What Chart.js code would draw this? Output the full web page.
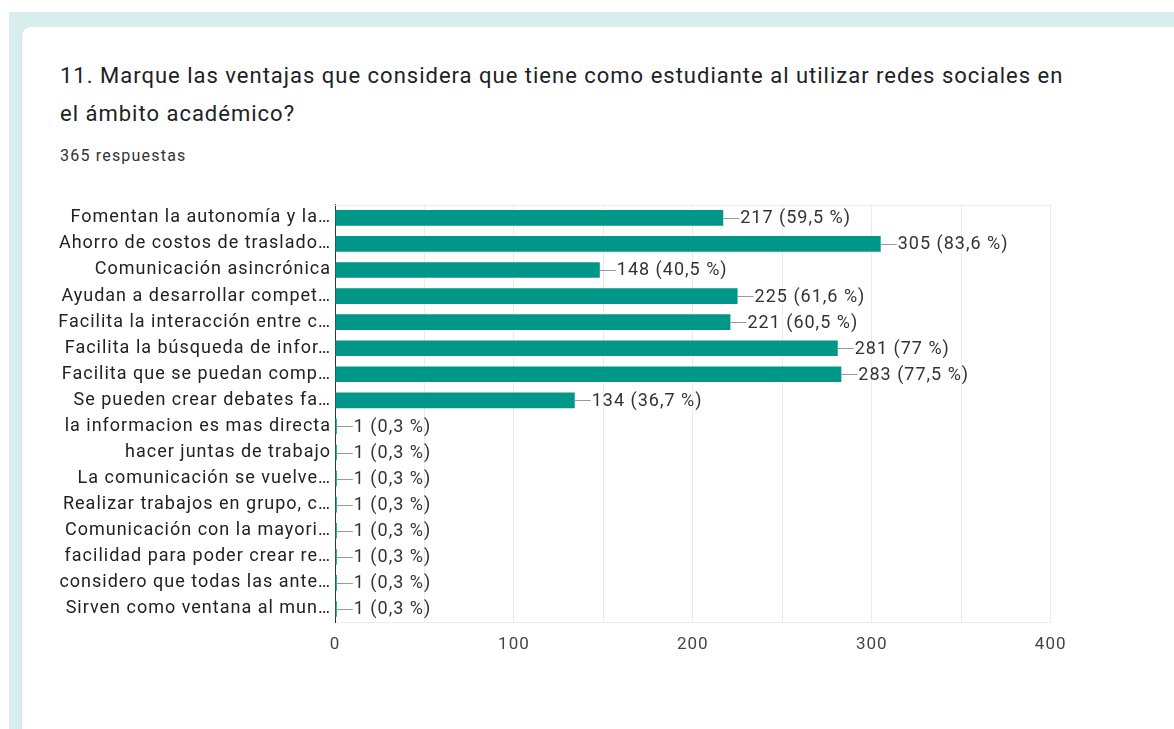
<!DOCTYPE html>
<html>
<head>
<meta charset="utf-8">
<script src="https://cdn.jsdelivr.net/npm/chart.js@4"></script>
<style>
  html, body { margin: 0; padding: 0; background: #fff; width: 1174px; height: 729px; overflow: hidden; }
  #bg { position: absolute; left: 9px; top: 12px; right: 0; bottom: 0; background: #d8eeec; }
  #card { position: absolute; left: 22px; top: 27px; width: 1180px; height: 760px; background: #fff;
          border-radius: 9px; box-shadow: 0 1px 2px rgba(0,0,0,0.12); }
  .title { position: absolute; left: 60px; top: 57px; font-family: Roboto, sans-serif; font-size: 22px;
           letter-spacing: 1px; line-height: 38px; color: #202124; width: 1100px; }
  .sub { position: absolute; left: 60px; top: 146px; font-family: Roboto, sans-serif; font-size: 16px;
         letter-spacing: 1.2px; color: #333; }
  #wrap { position: absolute; left: 40px; top: 190px; width: 1038px; height: 472px; }
</style>
</head>
<body>
<div id="bg"></div>
<div id="card"></div>
<div class="title">11. Marque las ventajas que considera que tiene como estudiante al utilizar redes sociales en<br>el ámbito académico?</div>
<div class="sub">365 respuestas</div>
<div id="wrap"><canvas id="chart"></canvas></div>
<script>
var categories = [
  "Fomentan la autonomía y la…",
  "Ahorro de costos de traslado…",
  "Comunicación asincrónica",
  "Ayudan a desarrollar compet…",
  "Facilita la interacción entre c…",
  "Facilita la búsqueda de infor…",
  "Facilita que se puedan comp…",
  "Se pueden crear debates fa…",
  "la informacion es mas directa",
  "hacer juntas de trabajo",
  "La comunicación se vuelve…",
  "Realizar trabajos en grupo, c…",
  "Comunicación con la mayori…",
  "facilidad para poder crear re…",
  "considero que todas las ante…",
  "Sirven como ventana al mun…"
];
var counts = [217, 305, 148, 225, 221, 281, 283, 134, 1, 1, 1, 1, 1, 1, 1, 1];
var percents = ["59,5", "83,6", "40,5", "61,6", "60,5", "77", "77,5", "36,7",
                "0,3", "0,3", "0,3", "0,3", "0,3", "0,3", "0,3", "0,3"];
var xTicks = [0, 100, 200, 300, 400];

// wider text spacing, like the screenshot
var spacing = {
  id: 'spacing',
  beforeDraw: function (chart) { chart.ctx.letterSpacing = '1px'; }
};

var frame = {
  id: 'frame',
  beforeDatasetsDraw: function (chart) {
    var a = chart.chartArea, c = chart.ctx;
    c.save();
    c.strokeStyle = '#ebebeb';
    c.lineWidth = 1;
    c.beginPath();
    c.moveTo(a.left, a.top + 0.5); c.lineTo(a.right, a.top + 0.5);
    c.stroke();
    c.restore();
  }
};

var valueLabels = {
  id: 'valueLabels',
  afterDatasetsDraw: function (chart) {
    var c = chart.ctx;
    var meta = chart.getDatasetMeta(0);
    c.save();
    c.font = '18px Roboto, sans-serif';
    c.letterSpacing = '1px';
    c.textBaseline = 'middle';
    meta.data.forEach(function (bar, i) {
      var x = bar.x, y = bar.y;
      c.strokeStyle = '#999';
      c.lineWidth = 1;
      c.beginPath();
      c.moveTo(x, Math.round(y) + 0.5);
      c.lineTo(x + 16, Math.round(y) + 0.5);
      c.stroke();
      c.fillStyle = '#333';
      c.fillText(counts[i] + ' (' + percents[i] + ' %)', x + 17, y + 1);
    });
    c.restore();
  }
};

new Chart(document.getElementById('chart'), {
  type: 'bar',
  data: {
    labels: categories,
    datasets: [{
      data: counts,
      backgroundColor: '#009688',
      borderWidth: 0,
      barPercentage: 1,
      categoryPercentage: 0.6
    }]
  },
  options: {
    indexAxis: 'y',
    responsive: true,
    maintainAspectRatio: false,
    animation: false,
    layout: { padding: { top: 0, right: 0 } },
    plugins: { legend: { display: false }, tooltip: { enabled: false } },
    scales: {
      x: {
        min: 0, max: 400,
        ticks: {
          stepSize: 50,
          padding: 13,
          color: '#444',
          font: { family: 'Roboto', size: 17 },
          maxRotation: 0,
          callback: function (v) { return xTicks.indexOf(v) >= 0 ? String(v) : ''; }
        },
        grid: { color: '#ebebeb', drawTicks: false },
        border: { display: true, color: '#ebebeb' },
        afterFit: function (s) { s.height = 40; }
      },
      y: {
        ticks: {
          padding: 4,
          color: '#222',
          font: { family: 'Roboto', size: 18 },
          autoSkip: false
        },
        grid: { display: false, drawTicks: false },
        border: { display: true, color: '#333', width: 1 },
        afterFit: function (s) { s.width = 295; }
      }
    }
  },
  plugins: [spacing, frame, valueLabels]
});
</script>
</body>
</html>
